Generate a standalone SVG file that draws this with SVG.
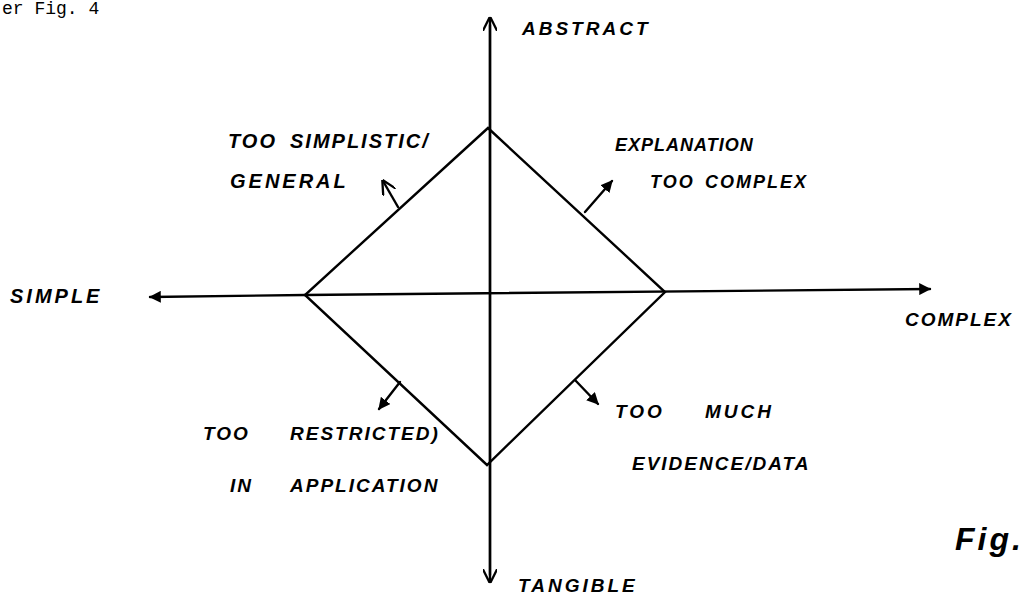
<svg xmlns="http://www.w3.org/2000/svg" width="1027" height="597" viewBox="0 0 1027 597">
<style>
.ln{stroke:#000;stroke-width:2.4;fill:none;stroke-linecap:round}
.hw{font-family:"Liberation Sans",Arial,sans-serif;font-weight:bold;font-style:italic;fill:#000}
.ty{font-family:"Liberation Mono","Courier New",monospace;fill:#000}
</style>
<defs>
<marker id="ah" viewBox="0 0 10 10" refX="9" refY="5" markerWidth="5" markerHeight="5" orient="auto" markerUnits="strokeWidth">
<path d="M0,0 L10,5 L0,10 Z" fill="#000"/>
</marker>
<marker id="oh" viewBox="0 0 10 10" refX="9" refY="5" markerWidth="6" markerHeight="6" orient="auto" markerUnits="strokeWidth">
<path d="M0,0 L10,5 L0,10" fill="none" stroke="#000" stroke-width="1.6"/>
</marker>
</defs>
<rect width="1027" height="597" fill="#fff"/>
<text class="ty" x="2" y="14" font-size="18">er Fig. 4</text>
<g id="connectors">
<line class="ln" x1="490" y1="575" x2="490" y2="18" marker-end="url(#oh)"/>
<line class="ln" x1="490" y1="25" x2="490" y2="582" marker-end="url(#oh)"/>
<line class="ln" x1="305" y1="295" x2="150" y2="297" marker-end="url(#ah)"/>
<line class="ln" x1="305" y1="295" x2="930" y2="289" marker-end="url(#ah)"/>
<line class="ln" x1="398" y1="207" x2="383" y2="181" marker-end="url(#oh)"/>
<line class="ln" x1="585" y1="212" x2="612" y2="181" marker-end="url(#ah)"/>
<line class="ln" x1="400" y1="382" x2="379" y2="409" marker-end="url(#ah)"/>
<line class="ln" x1="575" y1="380" x2="598" y2="404" marker-end="url(#ah)"/>
</g>
<g id="diamond">
<path class="ln" d="M488,128 L665,292 L487,465 L305,295 Z" stroke-linejoin="miter"/>
</g>
<g id="abstract"><text class="hw" x="522" y="35" font-size="19" letter-spacing="3">ABSTRACT</text></g>
<g id="tangible"><text class="hw" x="518" y="592" font-size="19" letter-spacing="3">TANGIBLE</text></g>
<g id="simple"><text class="hw" x="10" y="303" font-size="20" letter-spacing="3">SIMPLE</text></g>
<g id="complex"><text class="hw" x="905" y="326" font-size="19" letter-spacing="2">COMPLEX</text></g>
<g id="too-simplistic">
<text class="hw" x="228" y="148" font-size="20" letter-spacing="2">TOO<tspan x="290">SIMPLISTIC/</tspan></text>
<text class="hw" x="230" y="188" font-size="20" letter-spacing="3">GENERAL</text>
</g>
<g id="explanation">
<text class="hw" x="615" y="151" font-size="18" letter-spacing="1">EXPLANATION</text>
<text class="hw" x="650" y="188" font-size="18" letter-spacing="2">TOO<tspan x="705">COMPLEX</tspan></text>
</g>
<g id="too-restricted">
<text class="hw" x="203" y="440" font-size="19" letter-spacing="2">TOO<tspan x="290">RESTRICTED)</tspan></text>
<text class="hw" x="230" y="492" font-size="19" letter-spacing="2">IN<tspan x="290">APPLICATION</tspan></text>
</g>
<g id="too-much">
<text class="hw" x="615" y="418" font-size="19" letter-spacing="3">TOO<tspan x="705">MUCH</tspan></text>
<text class="hw" x="632" y="470" font-size="19" letter-spacing="2">EVIDENCE/DATA</text>
</g>
<g id="fig"><text class="hw" x="955" y="550" font-size="32" letter-spacing="3">Fig.</text></g>
</svg>
